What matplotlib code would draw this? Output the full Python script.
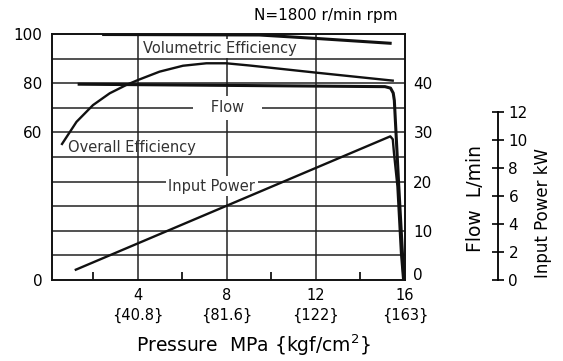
import matplotlib

matplotlib.use("Agg")
import matplotlib.pyplot as plt  # noqa: E402
from matplotlib.ticker import FixedLocator, NullLocator  # noqa: E402
from matplotlib.transforms import ScaledTranslation  # noqa: E402

plt.rcParams["font.family"] = ["DejaVu Sans"]

# pump characteristics at N = 1800 r/min
vol_p = [2.4, 9.46, 12.0, 15.4]
vol_eff = [99.8, 99.6, 98.2, 96.2]

ovr_p = [0.57, 1.25, 1.99, 2.74, 3.49, 4.01, 4.98, 6.03, 7.08, 7.97, 9.02, 12.0, 15.5]
ovr_eff = [54.9, 64.3, 71.1, 75.9, 79.3, 81.3, 84.7, 87.1, 88.1, 88.1, 87.2, 84.3, 81.0]

flow_p = [1.3, 15.1, 15.35, 15.47, 15.52, 15.72, 15.95]
flow = [39.8, 39.3, 39.0, 38.0, 36.5, 19.0, 0.0]

pow_p = [1.17, 15.34, 15.45, 15.5, 15.66, 15.82, 15.92]
power = [2.0, 29.2, 28.6, 26.0, 19.0, 5.5, 0.0]

eff_ticks = [0, 60, 80, 100]
right_ticks = [0, 10, 20, 30, 40]
x_major = [4, 8, 12, 16]
x_minor = [2, 6, 10, 14]
x_labels = ["4\n{40.8}", "8\n{81.6}", "12\n{122}", "16\n{163}"]
aux_ticks = [0, 2, 4, 6, 8, 10, 12]

fig = plt.figure(figsize=(5.63, 3.61), dpi=100, facecolor="white")
ax = fig.add_axes([0.0924, 0.2244, 0.627, 0.6814])
ax.set_xlim(0.15, 16)
ax.set_ylim(0, 100)

# grid: every 10 % horizontally, major pressures vertically
for g in range(10, 100, 10):
    ax.axhline(g, color="#222222", lw=1.1, zorder=1)
for g in x_major[:-1]:
    ax.axvline(g, color="#222222", lw=1.1, zorder=1)

for s in ax.spines.values():
    s.set_linewidth(1.4)
    s.set_color("#111111")

ax.yaxis.set_major_locator(FixedLocator(eff_ticks))
ax.tick_params(axis="y", length=0, pad=7, labelsize=11)
ax.xaxis.set_major_locator(FixedLocator(x_major))
ax.set_xticklabels(x_labels)
ax.xaxis.set_minor_locator(FixedLocator(x_minor))
ax.tick_params(axis="x", which="major", length=0, pad=6, labelsize=10.5)
ax.tick_params(axis="x", which="minor", direction="in", length=6, width=1.2)
for t in ax.get_xticklabels():
    t.set_linespacing(1.35)

ax2 = ax.twinx()
ax2.set_ylim(0, 50)
ax2.yaxis.set_major_locator(FixedLocator(right_ticks))
ax2.tick_params(axis="y", length=0, pad=6, labelsize=11)
for s in ax2.spines.values():
    s.set_visible(False)
# lift the bottom label clear of the "16" below it
lab0 = ax2.get_yticklabels()[0]
lab0.set_transform(lab0.get_transform() + ScaledTranslation(0, 4 / 72, fig.dpi_scale_trans))

ln = dict(color="#111111", solid_capstyle="butt", zorder=4)
ax.plot(vol_p, vol_eff, lw=2.2, **ln)
ax.plot(ovr_p, ovr_eff, lw=1.7, **ln)
ax2.plot(flow_p, flow, lw=2.2, **ln)
ax2.plot(pow_p, power, lw=1.7, **ln)

tight = dict(facecolor="white", edgecolor="none", boxstyle="square,pad=0.15")
wide = dict(facecolor="white", edgecolor="none", boxstyle="square,pad=0.3")
ax.text(7.67, 94.0, "Volumetric Efficiency", ha="center", va="center",
        fontsize=10.5, color="#333333", bbox=tight, zorder=3)
ax.text(8.03, 70.0, "   Flow   ", ha="center", va="center",
        fontsize=10.5, color="#333333", bbox=wide, zorder=3)
ax.text(0.86, 53.7, "Overall Efficiency", ha="left", va="center",
        fontsize=10.5, color="#333333", zorder=3)
ax.text(7.33, 38.2, "Input Power", ha="center", va="center",
        fontsize=10.5, color="#333333", bbox=tight, zorder=3)

fig.text(0.451, 0.044, "Pressure  MPa {kgf/cm$^{2}$}", ha="center", va="center",
         fontsize=13.5)
fig.text(0.707, 0.958, "N=1800 r/min rpm", ha="right", va="center", fontsize=11)

# separate scale for flow and input power
ax3 = fig.add_axes([0.8845 - 0.001, 0.2244, 0.001, 0.4654])
ax3.set_ylim(0, 12)
ax3.xaxis.set_major_locator(NullLocator())
for k in ("left", "top", "bottom"):
    ax3.spines[k].set_visible(False)
ax3.spines["right"].set_linewidth(1.3)
ax3.yaxis.tick_right()
ax3.yaxis.set_major_locator(FixedLocator(aux_ticks))
ax3.tick_params(axis="y", direction="inout", length=9, width=1.2, pad=3, labelsize=11)
ax3.patch.set_visible(False)

fig.text(0.844, 0.449, "Flow  L/min", rotation=90, ha="center", va="center", fontsize=13.5)
fig.text(0.965, 0.41, "Input Power kW", rotation=90, ha="center", va="center", fontsize=12)

fig.savefig("out.png", dpi=100)
